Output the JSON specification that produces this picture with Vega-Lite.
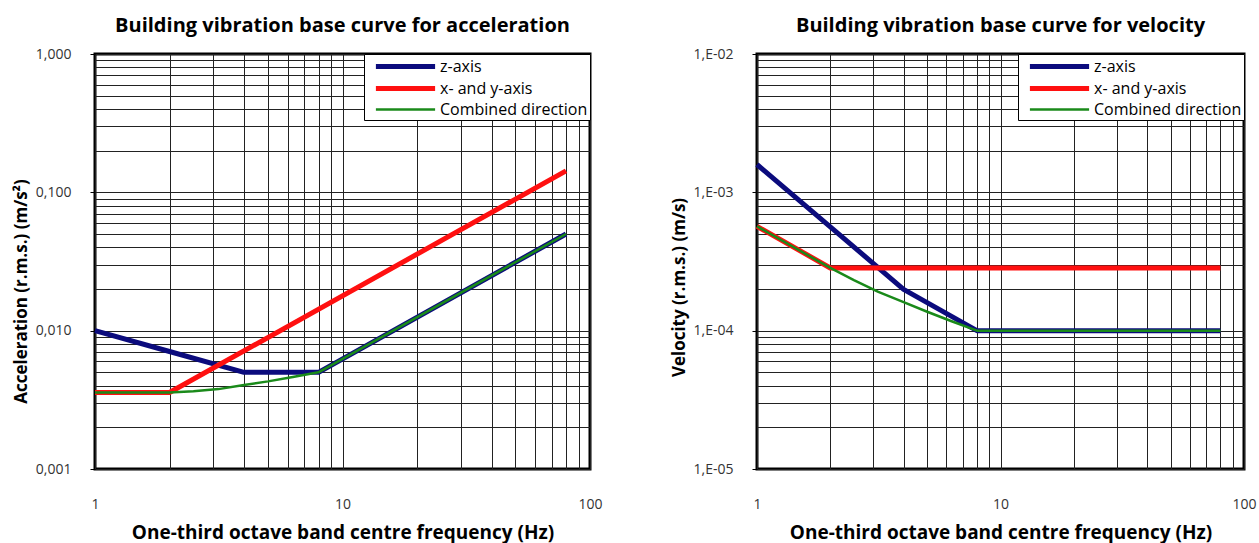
{
  "$schema": "https://vega.github.io/schema/vega-lite/v6.json",
  "padding": {"left": 10, "top": 14, "right": 0, "bottom": 0},
  "background": "white",
  "bounds": "flush",
  "spacing": 167,
  "config": {
    "font": "Open Sans",
    "view": {"stroke": "#000", "strokeWidth": 3},
    "title": {"fontSize": 20, "fontWeight": "bold", "font": "Open Sans", "color": "#000", "offset": 11},
    "axis": {
      "domain": false,
      "grid": true,
      "gridColor": "#222",
      "gridWidth": 1,
      "gridOpacity": 1,
      "labelFont": "Open Sans",
      "labelFontSize": 14,
      "labelColor": "#333",
      "labelOverlap": false,
      "labelBound": false,
      "labelFlush": false,
      "titleFont": "Open Sans",
      "titleFontSize": 19,
      "titleFontWeight": "bold",
      "titleColor": "#000"
    },
    "legend": {
      "orient": "top-right",
      "offset": 0,
      "fillColor": "white",
      "strokeColor": "#000",
      "padding": 2,
      "symbolType": "M-6.2,0L1.2,0",
      "symbolSize": 256,
      "symbolOffset": 49,
      "symbolFillColor": "transparent",
      "labelFont": "Open Sans",
      "labelFontSize": 16,
      "labelColor": "#000",
      "labelExpr": "datum.label + '      '",
      "rowPadding": 1,
      "labelOffset": 4
    }
  },
  "datasets": {
    "acc": [
      {"f": 1, "v": 0.01, "series": "z-axis"},
      {"f": 2, "v": 0.00707, "series": "z-axis"},
      {"f": 4, "v": 0.005, "series": "z-axis"},
      {"f": 8, "v": 0.005, "series": "z-axis"},
      {"f": 80, "v": 0.05, "series": "z-axis"},
      {"f": 1, "v": 0.00357, "series": "x- and y-axis"},
      {"f": 2, "v": 0.00357, "series": "x- and y-axis"},
      {"f": 80, "v": 0.1429, "series": "x- and y-axis"},
      {"f": 1, "v": 0.00357, "series": "Combined direction"},
      {"f": 2, "v": 0.00357, "series": "Combined direction"},
      {"f": 2.5, "v": 0.00365, "series": "Combined direction"},
      {"f": 3.15, "v": 0.00378, "series": "Combined direction"},
      {"f": 4, "v": 0.00405, "series": "Combined direction"},
      {"f": 5, "v": 0.0043, "series": "Combined direction"},
      {"f": 6.3, "v": 0.00463, "series": "Combined direction"},
      {"f": 8, "v": 0.005, "series": "Combined direction"},
      {"f": 80, "v": 0.05, "series": "Combined direction"}
    ],
    "vel": [
      {"f": 1, "v": 0.00159, "series": "z-axis"},
      {"f": 2, "v": 0.000563, "series": "z-axis"},
      {"f": 4, "v": 0.000199, "series": "z-axis"},
      {"f": 8, "v": 0.0001, "series": "z-axis"},
      {"f": 80, "v": 0.0001, "series": "z-axis"},
      {"f": 1, "v": 0.000568, "series": "x- and y-axis"},
      {"f": 2, "v": 0.000284, "series": "x- and y-axis"},
      {"f": 80, "v": 0.000284, "series": "x- and y-axis"},
      {"f": 1, "v": 0.000568, "series": "Combined direction"},
      {"f": 2, "v": 0.000284, "series": "Combined direction"},
      {"f": 2.5, "v": 0.000232, "series": "Combined direction"},
      {"f": 3.15, "v": 0.000191, "series": "Combined direction"},
      {"f": 4, "v": 0.000161, "series": "Combined direction"},
      {"f": 5, "v": 0.000137, "series": "Combined direction"},
      {"f": 6.3, "v": 0.000117, "series": "Combined direction"},
      {"f": 8, "v": 0.0001, "series": "Combined direction"},
      {"f": 80, "v": 0.0001, "series": "Combined direction"}
    ]
  },
  "hconcat": [
    {
      "width": 495,
      "height": 415,
      "title": "Building vibration base curve for acceleration",
      "data": {"name": "acc"},
      "mark": {"type": "line", "strokeJoin": "round"},
      "encoding": {
        "x": {
          "field": "f", "type": "quantitative",
          "scale": {"type": "log", "domain": [1, 100], "nice": false},
          "axis": {
            "title": "One-third octave band centre frequency (Hz)",
            "values": [1, 2, 3, 4, 5, 6, 7, 8, 9, 10, 20, 30, 40, 50, 60, 70, 80, 90, 100],
            "labelExpr": "datum.value == 1 ? '1' : datum.value == 10 ? '10' : datum.value == 100 ? '100' : ''",
            "ticks": false,
            "labelPadding": 28,
            "titlePadding": 12
          }
        },
        "y": {
          "field": "v", "type": "quantitative",
          "scale": {"type": "log", "domain": [0.001, 1], "nice": false},
          "axis": {
            "title": "Acceleration (r.m.s.) (m/s²)",
            "titleFontSize": 17,
            "titleY": 237,
            "values": [0.001, 0.002, 0.003, 0.004, 0.005, 0.006, 0.007, 0.008, 0.009, 0.01, 0.02, 0.03, 0.04, 0.05, 0.06, 0.07, 0.08, 0.09, 0.1, 0.2, 0.3, 0.4, 0.5, 0.6, 0.7, 0.8, 0.9, 1],
            "labelExpr": "datum.value == 1 ? '1,000' : datum.value == 0.1 ? '0,100' : datum.value == 0.01 ? '0,010' : datum.value == 0.001 ? '0,001' : ''",
            "tickSize": 5,
            "tickColor": {"condition": {"test": "datum.value == 1 || datum.value == 0.1 || datum.value == 0.01 || datum.value == 0.001", "value": "#000"}, "value": "transparent"},
            "labelPadding": 19,
            "titlePadding": 5
          }
        },
        "color": {
          "field": "series", "type": "nominal",
          "scale": {"domain": ["z-axis", "x- and y-axis", "Combined direction"], "range": ["#0b0b7d", "#ff1010", "#1a8a1a"]},
          "legend": {"title": null}
        },
        "strokeWidth": {
          "field": "series", "type": "nominal",
          "scale": {"type": "ordinal", "domain": ["z-axis", "x- and y-axis", "Combined direction"], "range": [5, 5, 2.5]},
          "legend": {"title": null}
        }
      }
    },
    {
      "width": 487,
      "height": 415,
      "title": "Building vibration base curve for velocity",
      "data": {"name": "vel"},
      "mark": {"type": "line", "strokeJoin": "round"},
      "encoding": {
        "x": {
          "field": "f", "type": "quantitative",
          "scale": {"type": "log", "domain": [1, 100], "nice": false},
          "axis": {
            "title": "One-third octave band centre frequency (Hz)",
            "values": [1, 2, 3, 4, 5, 6, 7, 8, 9, 10, 20, 30, 40, 50, 60, 70, 80, 90, 100],
            "labelExpr": "datum.value == 1 ? '1' : datum.value == 10 ? '10' : datum.value == 100 ? '100' : ''",
            "ticks": false,
            "labelPadding": 28,
            "titlePadding": 12
          }
        },
        "y": {
          "field": "v", "type": "quantitative",
          "scale": {"type": "log", "domain": [0.00001, 0.01], "nice": false},
          "axis": {
            "title": "Velocity (r.m.s.) (m/s)",
            "titleFontSize": 17,
            "titleY": 233,
            "values": [0.00001, 0.00002, 0.00003, 0.00004, 0.00005, 0.00006, 0.00007, 0.00008, 0.00009, 0.0001, 0.0002, 0.0003, 0.0004, 0.0005, 0.0006, 0.0007, 0.0008, 0.0009, 0.001, 0.002, 0.003, 0.004, 0.005, 0.006, 0.007, 0.008, 0.009, 0.01],
            "labelExpr": "datum.value == 0.01 ? '1,E-02' : datum.value == 0.001 ? '1,E-03' : datum.value == 0.0001 ? '1,E-04' : datum.value == 0.00001 ? '1,E-05' : ''",
            "tickSize": 5,
            "tickColor": {"condition": {"test": "datum.value == 0.01 || datum.value == 0.001 || datum.value == 0.0001 || datum.value == 0.00001", "value": "#000"}, "value": "transparent"},
            "labelPadding": 19,
            "titlePadding": 5
          }
        },
        "color": {
          "field": "series", "type": "nominal",
          "scale": {"domain": ["z-axis", "x- and y-axis", "Combined direction"], "range": ["#0b0b7d", "#ff1010", "#1a8a1a"]},
          "legend": {"title": null}
        },
        "strokeWidth": {
          "field": "series", "type": "nominal",
          "scale": {"type": "ordinal", "domain": ["z-axis", "x- and y-axis", "Combined direction"], "range": [5, 5, 2.5]},
          "legend": {"title": null}
        }
      }
    }
  ],
  "resolve": {
    "scale": {"color": "independent", "strokeWidth": "independent"},
    "legend": {"color": "independent", "strokeWidth": "independent"}
  }
}
